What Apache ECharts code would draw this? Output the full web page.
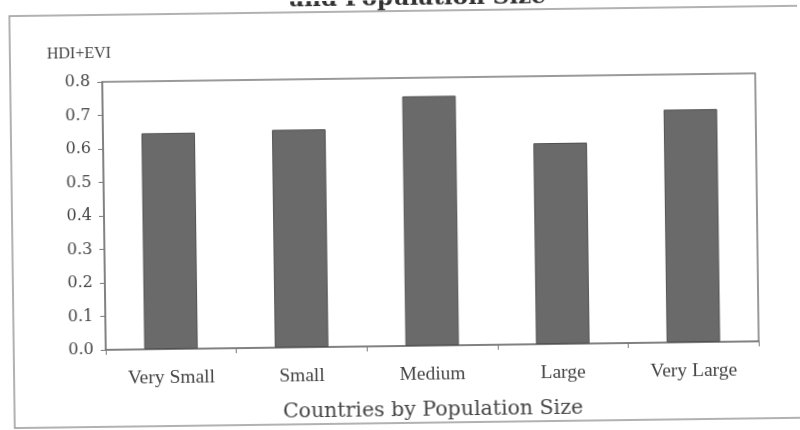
<!DOCTYPE html>
<html>
<head>
<meta charset="utf-8">
<script src="https://cdn.jsdelivr.net/npm/echarts@6/dist/echarts.min.js"></script>
<style>
  html, body { margin: 0; padding: 0; background: #ffffff; overflow: hidden; }
  #chart { width: 800px; height: 430px; transform: rotate(-0.75deg); transform-origin: 50% 50%; }
</style>
</head>
<body>
<div id="chart"></div>
<script>
// Population-size groups and their mean HDI+EVI score
const categories = ['Very Small', 'Small', 'Medium', 'Large', 'Very Large'];
const hdiEvi = [0.645, 0.65, 0.745, 0.60, 0.695];
const yTicks = { min: 0, max: 0.8, step: 0.1 };

const ink = '#454545';
const frame = '#7a7a7a';

const chart = echarts.init(document.getElementById('chart'), null, { renderer: 'canvas' });
chart.setOption({
  backgroundColor: '#ffffff',
  animation: false,
  title: [
    {
      text: 'and Population Size',
      left: 287,
      top: -17,
      textStyle: { fontFamily: 'DejaVu Serif', fontWeight: 'bold', fontSize: 23, color: '#333' }
    },
    {
      text: 'HDI+EVI',
      left: 44,
      top: 37,
      textStyle: { fontFamily: 'Liberation Serif', fontWeight: 'normal', fontSize: 16, color: ink }
    }
  ],
  graphic: [
    {
      type: 'rect',
      shape: { x: 12, y: 11, width: 830, height: 412 },
      style: { fill: 'none', stroke: '#999', lineWidth: 1.5 },
      silent: true
    }
  ],
  grid: {
    left: 104, right: 43, top: 78, bottom: 84,
    show: true, borderColor: frame, borderWidth: 1.5, backgroundColor: 'transparent'
  },
  xAxis: {
    type: 'category',
    data: categories,
    name: 'Countries by Population Size',
    nameLocation: 'middle',
    nameGap: 54,
    nameTextStyle: { fontFamily: 'DejaVu Serif', fontSize: 20.5, color: ink },
    axisLine: { lineStyle: { color: frame, width: 1.5 } },
    axisTick: { show: true, inside: false, length: 5, alignWithLabel: false, lineStyle: { color: frame } },
    axisLabel: { margin: 19, fontFamily: 'Liberation Serif', fontSize: 19.5, color: ink }
  },
  yAxis: {
    type: 'value',
    min: yTicks.min,
    max: yTicks.max,
    interval: yTicks.step,
    axisLine: { show: true, lineStyle: { color: frame, width: 1.5 } },
    axisTick: { show: true, inside: false, length: 5, lineStyle: { color: frame } },
    splitLine: { show: false },
    axisLabel: {
      margin: 12,
      fontFamily: 'DejaVu Serif',
      fontSize: 16,
      color: ink,
      formatter: v => v.toFixed(1)
    }
  },
  series: [
    {
      type: 'bar',
      data: hdiEvi,
      barWidth: '41%',
      itemStyle: { color: '#6a6a6a', borderColor: '#505050', borderWidth: 1 }
    }
  ]
});
</script>
</body>
</html>
